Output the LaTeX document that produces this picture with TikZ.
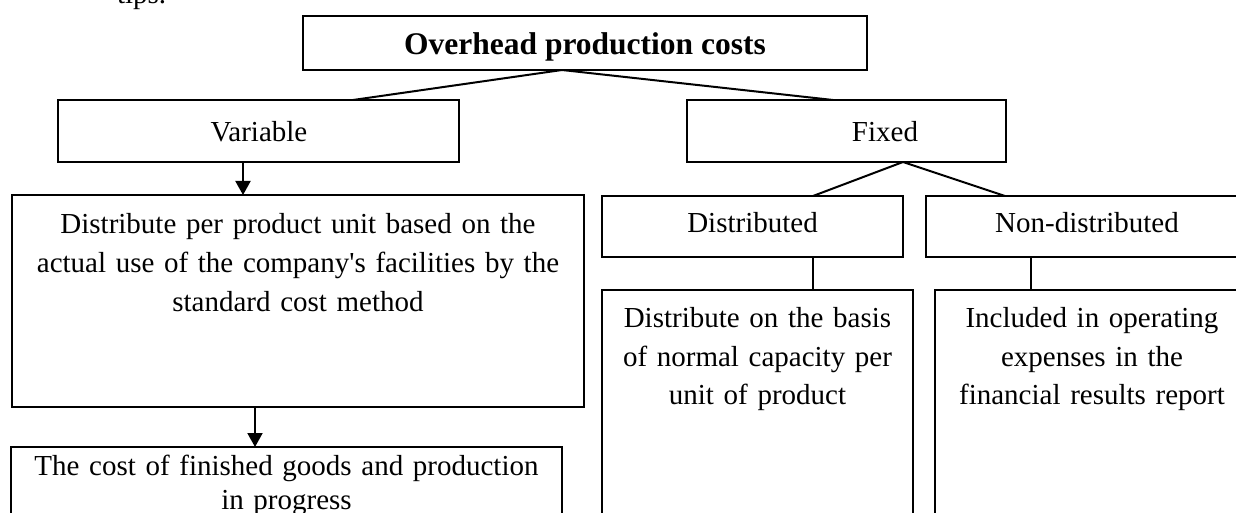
\documentclass[tikz,border=0pt]{standalone}
\usepackage{fontspec}
\setmainfont{Liberation Serif}
\usetikzlibrary{arrows.meta,calc}
\tikzset{
  box/.style={draw, line width=1pt, rectangle, inner sep=0pt, outer sep=0pt, anchor=north west},
  link/.style={line width=1pt},
  arr/.style={line width=1pt, -{Triangle[length=7pt,width=7.5pt]}},
  txt/.style={inner sep=0pt, outer sep=0pt, align=center, font=\fontsize{14.5pt}{19.5pt}\selectfont},
  head/.style={inner sep=0pt, outer sep=0pt, font=\fontsize{15.75pt}{19pt}\selectfont\bfseries},
}
\begin{document}
\begin{tikzpicture}[x=0.5pt,y=-0.5pt]
\useasboundingbox (0,0) rectangle (1236,513);
\clip (0,0) rectangle (1236,513);

% last line of the preceding paragraph
\node[txt, anchor=base west] (tips) at (117,4) {tips.};

% boxes
\node[box, minimum width=282pt, minimum height=27pt] (title) at (303,16) {};
\node[box, minimum width=200.5pt, minimum height=31pt] (var) at (58,100) {};
\node[box, minimum width=159.5pt, minimum height=31pt] (fixed) at (687,100) {};
\node[box, minimum width=286pt, minimum height=106pt] (big) at (12,195) {};
\node[box, minimum width=275.5pt, minimum height=60pt] (bot) at (11,447) {};
\node[box, minimum width=150.5pt, minimum height=30.5pt] (dist) at (602,196) {};
\node[box, minimum width=161pt, minimum height=30.5pt] (nondist) at (926,196) {};
\node[box, minimum width=155.5pt, minimum height=130pt] (disttxt) at (602,290) {};
\node[box, minimum width=157pt, minimum height=130pt] (nondtxt) at (935,290) {};

% labels
\node[head, anchor=base] (titlel) at (585,55) {Overhead production costs};
\node[txt, anchor=base] (varl) at (259,142) {Variable};
\node[txt, anchor=base] (fixedl) at (885,142) {Fixed};
\node[txt, anchor=base] (distl) at (752.5,233) {Distributed};
\node[txt, anchor=base] (nondistl) at (1087,233) {Non-distributed};
\node[txt, anchor=base, text width=280pt] (bigl) at (298,234)
  {Distribute per product unit based on the\\actual use of the company\textquotesingle s facilities by the\\standard cost method};
\node[txt, anchor=base, text width=270pt, font=\fontsize{14.5pt}{17pt}\selectfont] (botl) at (286.5,475)
  {The cost of finished goods and production\\in progress};
\node[txt, anchor=base, text width=150pt] (disttxtl) at (757.5,327)
  {Distribute on the basis\\of normal capacity per\\unit of product};
\node[txt, anchor=base, text width=150pt] (nondtxtl) at (1092,327)
  {Included in operating\\expenses in the\\financial results report};

% connectors
\coordinate (tapex) at ($(title.south)+(-23,0)$);
\coordinate (fapex) at ($(fixed.south)+(56.5,0)$);
\draw[link] (tapex) -- ($(var.north)+(94.5,0)$);
\draw[link] (tapex) -- ($(fixed.north)+(-13.5,0)$);
\draw[link] (fapex) -- ($(dist.north)+(60.5,0)$);
\draw[link] (fapex) -- ($(nondist.north)+(-82,0)$);
\draw[link] ($(dist.south)+(60.5,0)$) -- ($(disttxt.north)+(55.5,0)$);
\draw[link] ($(nondist.south)+(-56,0)$) -- ($(nondtxt.north)+(-61,0)$);
\draw[arr] ($(var.south)+(-15.5,0)$) -- ($(big.north)+(-55,0)$);
\draw[arr] ($(big.south)+(-43,0)$) -- ($(bot.north)+(-31.5,0)$);
\end{tikzpicture}
\end{document}
